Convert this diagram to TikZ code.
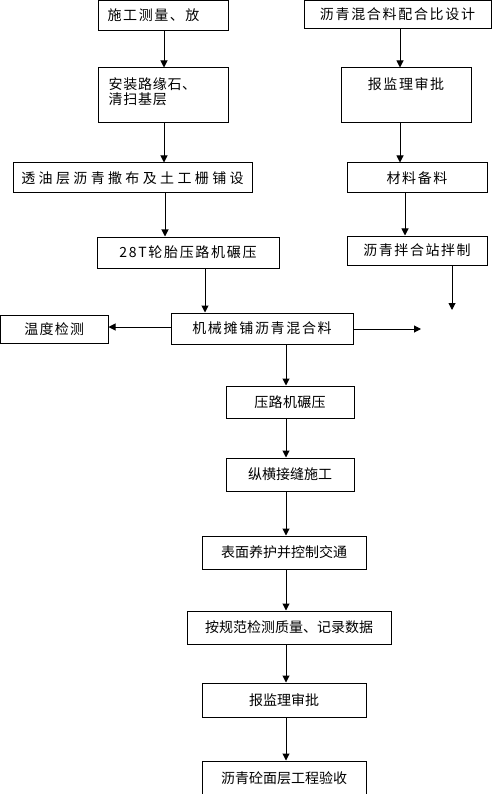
\documentclass[tikz,border=0pt]{standalone}
\usepackage{fontspec}
\setmainfont{Noto Sans CJK SC}
\usetikzlibrary{arrows.meta}
\begin{document}
\begin{tikzpicture}[x=1pt,y=-1pt,
  box/.style={draw, line width=1pt, inner sep=0pt},
  txt/.style={inner sep=0pt, font=\fontsize{14}{15}\selectfont\addfontfeature{LetterSpace=#1}},
  txt/.default=0,
  arr/.style={line width=1pt, -{Triangle[width=7pt,length=7pt]}}]
\useasboundingbox (0,0) rectangle (503,794);
\fill[white] (0,0) rectangle (503,794);
% left column top
\node[box, minimum width=130pt, minimum height=30pt,
  label={[txt=11, anchor=west, label distance=0pt, xshift=10pt]west:施工测量、放}] (n1) at (163,15.5) {};
\node[box, minimum width=130pt, minimum height=55pt,
  label={[txt=5, anchor=north west, align=left, label distance=0pt, xshift=11pt, yshift=-10pt]north west:安装路缘石、\\清扫基层}] (n2) at (163,95.5) {};
\node[box, txt=24, minimum width=239pt, minimum height=30pt] (n3) at (132.5,178) {透油层沥青撒布及土工栅铺设};
\node[box, txt=12, minimum width=182pt, minimum height=31pt] (n4) at (188,252.5) {28T轮胎压路机碾压};
% right column
\node[box, txt=12, minimum width=187pt, minimum height=28pt] (r1) at (397.5,14.5) {沥青混合料配合比设计};
\node[box, minimum width=130pt, minimum height=55pt,
  label={[txt=11, anchor=center, label distance=0pt, yshift=-17pt]north:报监理审批}] (r2) at (406,95.5) {};
\node[box, txt=11, minimum width=140pt, minimum height=30pt] (r3) at (417,178) {材料备料};
\node[box, txt=11, minimum width=140pt, minimum height=29pt] (r4) at (417,250.5) {沥青拌合站拌制};
% middle
\node[box, txt=12, minimum width=182pt, minimum height=31pt] (pave) at (262,328.5) {机械摊铺沥青混合料};
\node[box, txt=9, minimum width=107.5pt, minimum height=28pt] (temp) at (54.25,329) {温度检测};
\node[box, txt=2, minimum width=128pt, minimum height=32pt] (n6) at (290,402) {压路机碾压};
\node[box, txt=0, minimum width=128pt, minimum height=33pt] (n7) at (290,474.5) {纵横接缝施工};
\node[box, txt=0, minimum width=164pt, minimum height=33pt] (n8) at (284,552.5) {表面养护并控制交通};
\node[box, txt=0, minimum width=204pt, minimum height=33pt] (n9) at (289,627.5) {按规范检测质量、记录数据};
\node[box, txt=0, minimum width=164pt, minimum height=34pt] (n10) at (284,700) {报监理审批};
\node[box, txt=0, minimum width=164pt, minimum height=34pt] (n11) at (284,778) {沥青砼面层工程验收};
% free ends
\coordinate (e1) at (452,310);
\coordinate (e2) at (421,329);
% connectors
\draw[arr] (n1.south -| 164,0) -- (n2.north -| 164,0);
\draw[arr] (n2.south -| 164,0) -- (n3.north -| 164,0);
\draw[arr] (n3.south -| 165,0) -- (n4.north -| 165,0);
\draw[arr] (n4.south -| 205,0) -- (pave.north -| 205,0);
\draw[arr] (r1.south -| 400,0) -- (r2.north -| 400,0);
\draw[arr] (r2.south -| 400,0) -- (r3.north -| 400,0);
\draw[arr] (r3.south -| 405,0) -- (r4.north -| 405,0);
\draw[arr] (r4.south -| e1) -- (e1);
\draw[arr] (pave.west |- 0,327) -- (temp.east |- 0,327);
\draw[arr] (pave.east |- e2) -- (e2);
\draw[arr] (pave.south -| 286,0) -- (n6.north -| 286,0);
\draw[arr] (n6.south -| 286,0) -- (n7.north -| 286,0);
\draw[arr] (n7.south -| 286,0) -- (n8.north -| 286,0);
\draw[arr] (n8.south -| 286,0) -- (n9.north -| 286,0);
\draw[arr] (n9.south -| 286,0) -- (n10.north -| 286,0);
\draw[arr] (n10.south -| 286,0) -- (n11.north -| 286,0);
\end{tikzpicture}
\end{document}
